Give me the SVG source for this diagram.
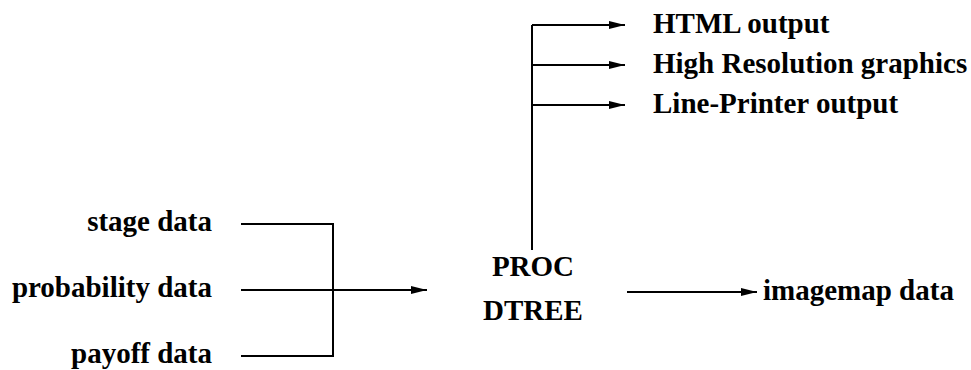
<svg xmlns="http://www.w3.org/2000/svg" width="971" height="370" viewBox="0 0 971 370">
<style>
.c{fill:none;stroke:#000;stroke-width:2}
</style>
<defs>
<marker id="ah" viewBox="0 0 16 8" refX="16" refY="4" markerWidth="16" markerHeight="8" markerUnits="userSpaceOnUse" orient="auto"><path d="M0,0L16,4L0,8z" fill="#000"/></marker>
</defs>
<g id="connectors">
<polyline class="c" points="241,224 333,224 333,356 241,356"/>
<line class="c" x1="241" y1="290" x2="427" y2="290" marker-end="url(#ah)"/>
<line class="c" x1="532" y1="250" x2="532" y2="25"/>
<line class="c" x1="532" y1="25" x2="625" y2="25" marker-end="url(#ah)"/>
<line class="c" x1="532" y1="65" x2="625" y2="65" marker-end="url(#ah)"/>
<line class="c" x1="532" y1="105" x2="625" y2="105" marker-end="url(#ah)"/>
<line class="c" x1="627" y1="292" x2="757" y2="292" marker-end="url(#ah)"/>
</g>
<g font-family="'Liberation Serif', serif" font-weight="bold" font-size="29" fill="#000">
<g id="stage"><text x="212" y="231" text-anchor="end">stage data</text></g>
<g id="probability"><text x="212" y="297" text-anchor="end">probability data</text></g>
<g id="payoff"><text x="212" y="363" text-anchor="end">payoff data</text></g>
<g id="proc"><text x="533" y="276" text-anchor="middle">PROC</text><text x="533" y="320" text-anchor="middle">DTREE</text></g>
<g id="html"><text x="653" y="33">HTML output</text></g>
<g id="hires"><text x="653" y="73">High Resolution graphics</text></g>
<g id="lp"><text x="653" y="113">Line-Printer output</text></g>
<g id="imagemap"><text x="763" y="300">imagemap data</text></g>
</g>
</svg>
